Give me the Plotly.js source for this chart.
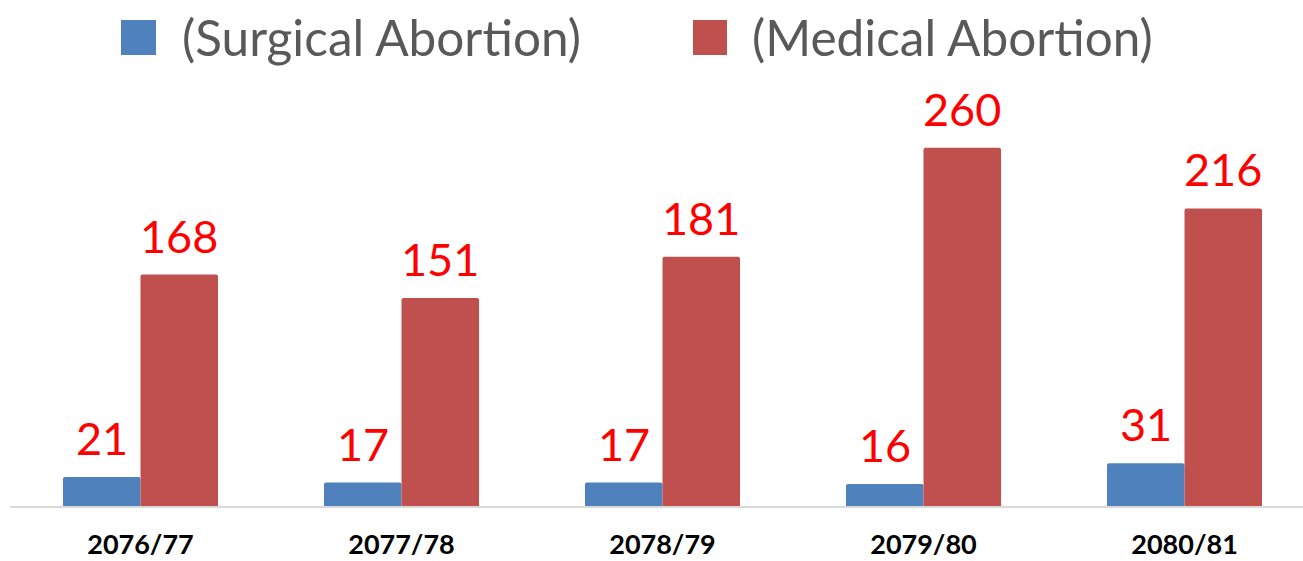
<!DOCTYPE html>
<html>
<head>
<meta charset="utf-8">
<script src="https://cdn.plot.ly/plotly-3.0.1.min.js"></script>
<style>html,body{margin:0;padding:0;background:#fff}#chart{width:1303px;height:561px}</style>
</head>
<body>
<div id="chart"></div>
<script>
const categories = ["2076/77", "2077/78", "2078/79", "2079/80", "2080/81"];
const surgical = [21, 17, 17, 16, 31];
const medical = [168, 151, 181, 260, 216];
const seriesNames = ["(Surgical Abortion)", "(Medical Abortion)"];
const seriesColors = ["#4F81BD", "#C0504D"];

const FONT = "Lato, 'Open Sans', sans-serif";

const traces = [
  {type: "bar", name: seriesNames[0], x: categories, y: surgical, marker: {color: seriesColors[0]}, hoverinfo: "x+y"},
  {type: "bar", name: seriesNames[1], x: categories, y: medical, marker: {color: seriesColors[1]}, hoverinfo: "x+y"}
];

const L = 10, T = 90, W = 1303, H = 561, B = 55;
const plotW = W - L, plotH = H - B - T;
const px2x = p => (p - L) / plotW;
const py2y = p => (H - B - p) / plotH;

const annotations = [];
const shift = 38.75;
[surgical, medical].forEach((vals, si) => {
  vals.forEach((v, i) => {
    annotations.push({
      x: categories[i], y: v, xref: "x", yref: "y",
      text: String(v), showarrow: false,
      xanchor: "center", yanchor: "bottom",
      xshift: si === 0 ? -shift : shift, yshift: 10,
      font: {family: FONT, size: 45, color: "#FF0000"}
    });
  });
});

// custom legend
const legendSquares = [[121, 156], [693, 727]];
const legendText = [180, 750];
const shapes = [];
seriesNames.forEach((n, i) => {
  shapes.push({
    type: "rect", xref: "paper", yref: "paper",
    x0: px2x(legendSquares[i][0]), x1: px2x(legendSquares[i][1]),
    y0: py2y(55), y1: py2y(20),
    fillcolor: seriesColors[i], line: {width: 0}
  });
  annotations.push({
    xref: "paper", yref: "paper", x: px2x(legendText[i]), y: py2y(37),
    xanchor: "left", yanchor: "middle", showarrow: false,
    text: n, font: {family: FONT, size: 49.5, color: "#595959"}
  });
});

const layout = {
  width: W, height: H,
  margin: {l: L, r: 0, t: T, b: B},
  paper_bgcolor: "#fff", plot_bgcolor: "#fff",
  showlegend: false,
  barmode: "group", bargap: 0.406, bargroupgap: 0,
  barcornerradius: 2,
  xaxis: {
    type: "category", range: [-0.5, 4.454],
    showline: true, linecolor: "#D9D9D9", linewidth: 2,
    showgrid: false, zeroline: false, ticks: "",
    ticklabelstandoff: 14,
    tickfont: {family: FONT, size: 27, color: "#000", weight: "bold"}
  },
  yaxis: {range: [0, 302], visible: false, showgrid: false, zeroline: false},
  annotations: annotations,
  shapes: shapes
};

Plotly.newPlot("chart", traces, layout, {displayModeBar: false, staticPlot: true});
</script>
</body>
</html>
